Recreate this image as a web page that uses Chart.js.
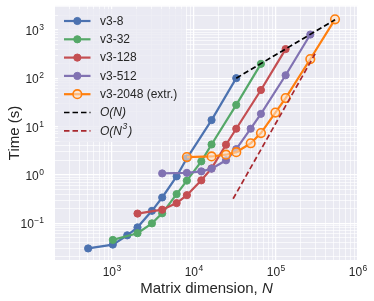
<!DOCTYPE html>
<html>
<head>
<meta charset="utf-8">
<script src="https://cdn.jsdelivr.net/npm/chart.js@4.4.0/dist/chart.umd.min.js"></script>
<style>
html, body { margin: 0; padding: 0; background: #fff; }
#wrap { width: 374px; height: 301px; }
</style>
</head>
<body>
<div id="wrap"><canvas id="chart" width="374" height="301"></canvas></div>
<script>
// values (N, seconds)
const n8 = [512, 1024, 1536, 2048, 3072, 4096, 6144, 8192, 16384, 32768];
const t8 = [0.030, 0.036, 0.056, 0.082, 0.18, 0.34, 0.93, 2.2, 13.6, 100];

const n32 = [1024, 2048, 3072, 4096, 6144, 8192, 12288, 16384, 32768, 65536];
const t32 = [0.045, 0.062, 0.099, 0.16, 0.40, 0.76, 1.9, 4.25, 28, 198];

const n128 = [2048, 4096, 6144, 8192, 12288, 16384, 24576, 32768, 65536, 131072];
const t128 = [0.158, 0.19, 0.26, 0.38, 0.77, 1.36, 4.2, 9.0, 57, 400];

const n512 = [4096, 8192, 12288, 16384, 24576, 32768, 49152, 65536, 131072, 262144];
const t512 = [1.07, 1.10, 1.18, 1.34, 2.0, 3.4, 9.0, 18.3, 115, 800];

const n2048 = [8192, 16384, 24576, 32768, 49152, 65536, 98304, 131072, 262144, 524288];
const t2048 = [2.33, 2.40, 2.61, 2.95, 4.5, 7.3, 19.4, 38.7, 249, 1650];

const nLin = [32768, 524288];
const tLin = [100, 1620];

const nCube = [30000, 300000];
const tCube = [0.32, 320];

const xDecades = [100, 1000, 10000, 100000, 1000000];
const yDecades = [0.01, 0.1, 1, 10, 100, 1000];
const mantissas = [1, 2, 3, 4, 5, 6, 7, 8, 9];

const X_MIN = 202, X_MAX = 1e6;
const Y_MIN = 0.0173, Y_MAX = 3130;

const FONT = '"Liberation Sans", Arial, sans-serif';
const INK = '#262626';

function zip(xs, ys) { return xs.map((x, i) => ({ x: x, y: ys[i] })); }
function isDecade(v) {
    if (!v) return false;
    const l = Math.log10(v);
    return Math.abs(l - Math.round(l)) < 1e-6;
}
function tickList(decades, lo, hi) {
    const out = [];
    decades.forEach(d => mantissas.forEach(m => {
        const v = m * d;
        if (v >= lo && v <= hi) out.push(v);
    }));
    return out;
}
const xTicks = tickList(xDecades, X_MIN, X_MAX);
const yTicks = tickList(yDecades, Y_MIN, Y_MAX);

function line(label, xs, ys, color, extra) {
    return Object.assign({
        label: label,
        data: zip(xs, ys),
        borderColor: color,
        backgroundColor: color,
        pointBackgroundColor: color,
        pointBorderColor: color,
        borderWidth: 2.2,
        pointRadius: 3.6,
        pointBorderWidth: 1,
        tension: 0,
        fill: false
    }, extra || {});
}

const datasets = [
    line('v3-8', n8, t8, '#4C72B0', { order: 10 }),
    line('v3-32', n32, t32, '#55A868', { order: 9 }),
    line('v3-128', n128, t128, '#C44E52', { order: 8 }),
    line('v3-512', n512, t512, '#8172B2', { order: 7 }),
    line('v3-2048 (extr.)', n2048, t2048, '#FF7F0E', {
        order: 6, pointRadius: 4.3, pointBorderWidth: 1.6,
        pointBackgroundColor: 'rgba(255,225,195,0.6)'
    }),
    line('O(N)', nLin, tLin, '#000000', {
        order: 5, borderWidth: 1.7, borderDash: [5.5, 3], pointRadius: 0, italic: true
    }),
    line('O(N³)', nCube, tCube, '#A8282E', {
        order: 4, borderWidth: 1.7, borderDash: [5.5, 3], pointRadius: 0, italic: true
    })
];

function gridOpts() {
    return {
        color: '#ffffff',
        lineWidth: c => (c.tick && isDecade(c.tick.value)) ? 1.25 : 0.65,
        drawTicks: false
    };
}

function drawPow(ctx, x, y, exp, align) {
    ctx.font = '12px ' + FONT;
    const w1 = ctx.measureText('10').width;
    ctx.font = '8.5px ' + FONT;
    const w2 = ctx.measureText(exp).width;
    const x0 = align === 'right' ? x - w1 - w2 - 0.5 : x - (w1 + w2 + 0.5) / 2;
    ctx.textAlign = 'left';
    ctx.textBaseline = 'alphabetic';
    ctx.font = '12px ' + FONT;
    ctx.fillText('10', x0, y);
    ctx.font = '8.5px ' + FONT;
    ctx.fillText(exp, x0 + w1 + 0.5, y - 4.7);
}
function expText(v) {
    const e = Math.round(Math.log10(v));
    return e < 0 ? '\u2212' + (-e) : String(e);
}

// legend text, with a raised exponent where the label has one
function drawLabel(ctx, text, x, y, italic) {
    const base = (italic ? 'italic ' : '') + '12px ' + FONT;
    const small = (italic ? 'italic ' : '') + '8.5px ' + FONT;
    const parts = text.split('³');
    ctx.textAlign = 'left';
    ctx.textBaseline = 'middle';
    let cx = x;
    parts.forEach((p, i) => {
        ctx.font = base;
        ctx.fillText(p, cx, y);
        cx += ctx.measureText(p).width;
        if (i < parts.length - 1) {
            ctx.font = small;
            ctx.fillText('3', cx + 0.5, y - 4.5);
            cx += ctx.measureText('3').width + 1.5;
        }
    });
}

const plotBg = {
    id: 'plotBg',
    beforeDraw(chart) {
        const a = chart.chartArea, ctx = chart.ctx;
        ctx.save();
        ctx.fillStyle = '#EAEAF2';
        ctx.fillRect(a.left, a.top, a.right - a.left, a.bottom - a.top);
        ctx.restore();
    }
};

const decor = {
    id: 'decor',
    afterDraw(chart) {
        const ctx = chart.ctx, a = chart.chartArea;
        const xs = chart.scales.x, ys = chart.scales.y;
        ctx.save();
        ctx.fillStyle = INK;
        // tick labels
        xDecades.forEach(v => {
            if (v < X_MIN || v > X_MAX) return;
            drawPow(ctx, xs.getPixelForValue(v), a.bottom + 15.5, expText(v), 'center');
        });
        yDecades.forEach(v => {
            if (v < Y_MIN || v > Y_MAX) return;
            drawPow(ctx, a.left - 11, ys.getPixelForValue(v) + 5, expText(v), 'right');
        });
        // axis titles
        ctx.font = '15px ' + FONT;
        const t1 = 'Matrix dimension, ';
        const w1 = ctx.measureText(t1).width;
        ctx.font = 'italic 15px ' + FONT;
        const w2 = ctx.measureText('N').width;
        const cx = (a.left + a.right) / 2;
        const x0 = cx - (w1 + w2) / 2;
        ctx.textAlign = 'left';
        ctx.textBaseline = 'alphabetic';
        ctx.font = '15px ' + FONT;
        ctx.fillText(t1, x0, 293);
        ctx.font = 'italic 15px ' + FONT;
        ctx.fillText('N', x0 + w1, 293);

        ctx.translate(19, (a.top + a.bottom) / 2);
        ctx.rotate(-Math.PI / 2);
        ctx.textAlign = 'center';
        ctx.font = '15px ' + FONT;
        ctx.fillText('Time (s)', 0, 0);
        ctx.restore();

        // legend
        ctx.save();
        ctx.fillStyle = 'rgba(234,234,242,0.8)';
        ctx.beginPath();
        ctx.roundRect(58, 9, 128, 133, 3);
        ctx.fill();
        chart.data.datasets.forEach((ds, i) => {
            const y = 21 + i * 18.3;
            ctx.save();
            ctx.strokeStyle = ds.borderColor;
            ctx.lineWidth = ds.borderWidth;
            ctx.setLineDash(ds.borderDash || []);
            ctx.beginPath();
            ctx.moveTo(64, y);
            ctx.lineTo(90.5, y);
            ctx.stroke();
            ctx.setLineDash([]);
            if (ds.pointRadius > 0) {
                ctx.beginPath();
                ctx.arc(77.3, y, ds.pointRadius, 0, Math.PI * 2);
                ctx.fillStyle = ds.pointBackgroundColor;
                ctx.fill();
                ctx.lineWidth = ds.pointBorderWidth;
                ctx.strokeStyle = ds.pointBorderColor;
                ctx.stroke();
            }
            ctx.restore();
            ctx.fillStyle = INK;
            drawLabel(ctx, ds.label, 100, y + 0.5, ds.italic);
        });
        ctx.restore();
    }
};

new Chart(document.getElementById('chart'), {
    type: 'line',
    data: { datasets: datasets },
    options: {
        responsive: false,
        animation: false,
        layout: { padding: { top: 5, right: 16, left: 0, bottom: 0 } },
        plugins: { legend: { display: false }, tooltip: { enabled: false } },
        scales: {
            x: {
                type: 'logarithmic',
                min: X_MIN,
                max: X_MAX,
                afterBuildTicks: s => { s.ticks = xTicks.map(v => ({ value: v, major: isDecade(v) })); },
                afterFit: s => { s.height = 41; },
                ticks: { display: false },
                grid: gridOpts(),
                border: { display: false }
            },
            y: {
                type: 'logarithmic',
                min: Y_MIN,
                max: Y_MAX,
                afterBuildTicks: s => { s.ticks = yTicks.map(v => ({ value: v, major: isDecade(v) })); },
                afterFit: s => { s.width = 55; },
                ticks: { display: false },
                grid: gridOpts(),
                border: { display: false }
            }
        }
    },
    plugins: [plotBg, decor]
});
</script>
</body>
</html>
